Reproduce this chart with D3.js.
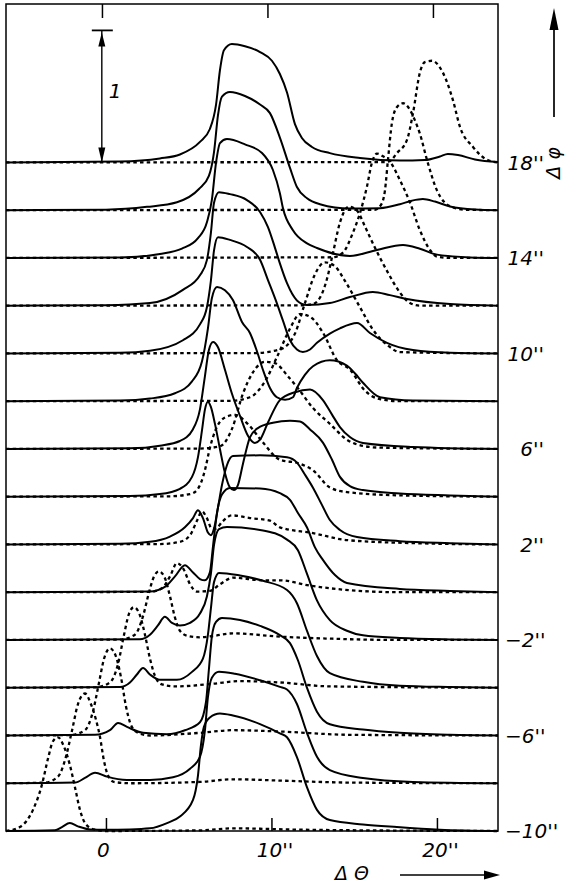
<!DOCTYPE html>
<html>
<head>
<meta charset="utf-8">
<script src="https://cdn.jsdelivr.net/npm/d3@7"></script>
<style>
  body { margin: 0; background: #fff; }
  text { font-family: "DejaVu Sans", "Liberation Sans", sans-serif; font-style: italic; fill: #000; }
</style>
</head>
<body>
<script>
// curve offsets (Δφ in arcsec), bottom to top
const phiValues = [-10, -8, -6, -4, -2, 0, 2, 4, 6, 8, 10, 12, 14, 16, 18];
const phiLabels = [-10, -6, -2, 2, 6, 10, 14, 18];
const thetaTicks = [0, 10, 20];

// solid curves: [ΔΘ (arcsec), intensity]
const solidM10 = [[-6.04,0],[-3.08,0.005],[-2.66,0.03],[-2.18,0.06],[-1.69,0.035],[-0.97,0.012],[0,0.01],[1.45,0.012],[2.66,0.02],[3.69,0.06],[4.47,0.11],[5.26,0.235],[5.56,0.42],[5.74,0.65],[5.92,0.79],[6.28,0.86],[6.89,0.89],[7.67,0.875],[9.31,0.81],[10.51,0.74],[10.94,0.71],[11.54,0.56],[12.15,0.33],[12.75,0.16],[13.53,0.083],[15.53,0.05],[17.58,0.03],[20.18,0.01],[23.69,0]];
const solidM8 = [[-6.04,0],[-1.87,0.005],[-1.27,0.04],[-0.66,0.08],[0.06,0.05],[1.27,0.025],[2.66,0.025],[4.05,0.045],[5.08,0.11],[5.68,0.2],[5.98,0.4],[6.16,0.65],[6.40,0.8],[6.83,0.845],[7.79,0.83],[9.31,0.78],[10.51,0.73],[10.94,0.71],[11.54,0.6],[12.15,0.38],[12.75,0.2],[13.53,0.1],[15.53,0.04],[18.55,0.01],[23.69,0]];
const solidM6 = [[-6.04,0],[-0.66,0.005],[0.24,0.04],[0.73,0.095],[1.27,0.065],[2.24,0.02],[3.69,0.01],[4.77,0.04],[5.68,0.1],[6.04,0.25],[6.22,0.5],[6.40,0.75],[6.65,0.86],[7.01,0.89],[8.10,0.875],[9.31,0.83],[10.51,0.76],[11.12,0.7],[11.60,0.57],[12.15,0.36],[12.75,0.18],[13.53,0.085],[15.53,0.045],[17.76,0.02],[20.79,0.005],[23.69,0]];
const solidM4 = [[-6.04,0],[0.85,0.005],[1.45,0.04],[1.87,0.1],[2.24,0.15],[2.66,0.1],[3.26,0.06],[4.29,0.06],[5.20,0.12],[5.86,0.22],[6.16,0.4],[6.34,0.6],[6.53,0.8],[6.83,0.87],[8.10,0.85],[9.49,0.81],[10.94,0.74],[11.54,0.64],[12.15,0.43],[12.75,0.24],[13.53,0.11],[15.53,0.045],[17.76,0.015],[20.79,0.005],[23.69,0]];
const solidM2 = [[-6.04,0],[2.05,0.005],[2.66,0.04],[3.14,0.11],[3.56,0.175],[3.99,0.13],[4.47,0.11],[5.08,0.13],[5.68,0.2],[6.10,0.33],[6.34,0.5],[6.53,0.72],[6.83,0.84],[7.31,0.856],[9.49,0.83],[10.94,0.76],[11.60,0.68],[12.15,0.5],[12.75,0.3],[13.53,0.15],[14.56,0.07],[15.53,0.035],[17.76,0.015],[20.79,0.004],[23.69,0]];
const solid0 = [[-6.04,0],[2.66,0.005],[3.56,0.04],[4.17,0.12],[4.77,0.205],[5.26,0.15],[5.68,0.1],[5.98,0.09],[6.28,0.15],[6.47,0.35],[6.71,0.6],[7.01,0.74],[7.49,0.79],[9.31,0.785],[10.51,0.75],[11.12,0.7],[11.60,0.6],[12.15,0.49],[12.63,0.34],[13.11,0.245],[13.84,0.13],[14.56,0.07],[17.76,0.025],[20.79,0.01],[23.69,0]];
const solid2 = [[-6.04,0],[0.85,0.005],[2.66,0.02],[3.87,0.06],[4.77,0.13],[5.26,0.2],[5.56,0.26],[5.86,0.2],[6.16,0.09],[6.34,0.07],[6.53,0.12],[6.77,0.28],[7.01,0.45],[7.31,0.6],[7.67,0.67],[9.31,0.675],[10.94,0.66],[11.54,0.62],[12.02,0.53],[12.51,0.43],[13.05,0.3],[13.53,0.185],[14.14,0.11],[15.17,0.056],[17.76,0.025],[20.79,0.01],[23.69,0]];
const solid4 = [[-6.04,0],[1.45,0.005],[3.26,0.02],[4.47,0.06],[5.20,0.15],[5.56,0.3],[5.80,0.5],[5.98,0.66],[6.16,0.72],[6.34,0.68],[6.59,0.55],[6.89,0.36],[7.19,0.18],[7.49,0.07],[7.73,0.05],[7.98,0.09],[8.28,0.25],[8.70,0.45],[9.18,0.52],[10.09,0.56],[11.12,0.575],[11.72,0.57],[12.33,0.51],[13.11,0.41],[13.66,0.28],[14.14,0.15],[14.74,0.08],[15.53,0.05],[17.76,0.025],[20.79,0.01],[23.69,0]];
const solid6 = [[-6.04,0],[1.45,0.005],[3.26,0.025],[4.47,0.06],[5.26,0.15],[5.68,0.3],[5.98,0.55],[6.22,0.75],[6.47,0.81],[6.77,0.77],[7.19,0.6],[7.61,0.42],[8.10,0.25],[8.58,0.1],[9.00,0.045],[9.31,0.07],[9.79,0.2],[10.51,0.37],[11.42,0.43],[12.33,0.45],[13.11,0.37],[13.66,0.26],[14.14,0.166],[14.74,0.09],[15.53,0.045],[18.55,0.015],[23.69,0]];
const solid8 = [[-6.04,0],[0.85,0.005],[2.66,0.02],[4.17,0.06],[5.20,0.15],[5.80,0.3],[6.16,0.55],[6.40,0.78],[6.71,0.865],[7.19,0.84],[7.67,0.767],[8.22,0.6],[8.70,0.517],[9.12,0.38],[9.49,0.236],[9.91,0.1],[10.33,0.03],[10.82,0.01],[11.30,0.03],[11.54,0.1],[12.02,0.2],[12.51,0.265],[13.53,0.31],[14.56,0.27],[15.05,0.21],[15.53,0.14],[16.56,0.03],[18.55,0.005],[23.69,0]];
const solid10 = [[-6.04,0],[0.85,0.005],[2.66,0.02],[4.65,0.1],[5.68,0.22],[6.10,0.35],[6.34,0.55],[6.53,0.78],[6.77,0.88],[7.49,0.86],[8.52,0.806],[9.31,0.71],[9.79,0.556],[10.27,0.4],[10.69,0.25],[11.12,0.1],[11.54,0.03],[11.90,0.01],[12.33,0.03],[12.75,0.08],[13.53,0.15],[14.14,0.19],[15.17,0.23],[15.95,0.155],[16.98,0.08],[18.55,0.026],[20.79,0.005],[23.69,0]];
const solid12 = [[-6.04,0],[0,0.004],[2.66,0.02],[4.65,0.12],[5.68,0.23],[6.10,0.345],[6.34,0.55],[6.53,0.78],[6.83,0.86],[7.49,0.845],[8.52,0.8],[9.31,0.71],[9.79,0.595],[10.21,0.44],[10.51,0.32],[10.94,0.17],[11.54,0.04],[12.15,0.005],[13.53,0.02],[14.74,0.065],[16.13,0.104],[17.16,0.08],[18.19,0.05],[20.79,0.012],[23.69,0]];
const solid14 = [[-6.04,0],[0.85,0.004],[3.26,0.03],[4.59,0.07],[5.56,0.15],[6.10,0.27],[6.40,0.44],[6.65,0.72],[6.89,0.87],[7.31,0.9],[8.40,0.86],[9.43,0.795],[10.09,0.666],[10.51,0.49],[10.69,0.38],[11.30,0.21],[12.15,0.11],[12.75,0.075],[14.74,0.015],[16.37,0.06],[17.95,0.098],[18.97,0.07],[20.00,0.025],[22.00,0.004],[23.69,0]];
const solid16 = [[-6.04,0],[0,0.004],[2.48,0.025],[4.29,0.06],[5.62,0.16],[6.22,0.26],[6.53,0.44],[6.77,0.72],[7.01,0.86],[7.49,0.895],[8.40,0.865],[9.31,0.8],[9.91,0.735],[10.51,0.55],[11.12,0.32],[11.54,0.175],[12.15,0.09],[12.93,0.045],[14.74,0.012],[16.56,0.015],[17.76,0.045],[18.49,0.072],[19.15,0.084],[19.88,0.065],[20.79,0.028],[22.30,0.005],[23.69,0]];
const solid18 = [[-6.04,0],[0.85,0.007],[3.26,0.03],[4.47,0.06],[5.68,0.155],[6.28,0.253],[6.65,0.435],[6.89,0.7],[7.13,0.85],[7.61,0.897],[8.40,0.88],[9.31,0.836],[10.03,0.77],[10.51,0.67],[10.94,0.53],[11.42,0.29],[11.84,0.185],[12.45,0.117],[13.53,0.07],[15.35,0.033],[17.76,0.014],[19.27,0.018],[20.18,0.045],[20.66,0.064],[21.27,0.056],[22.30,0.022],[23.69,0.003]];

// dotted curves: [ΔΘ (arcsec), intensity]
const dottedM10 = [[-6.04,0],[-5.20,0.03],[-4.41,0.16],[-3.87,0.35],[-3.50,0.55],[-3.20,0.68],[-2.90,0.71],[-2.54,0.64],[-2.18,0.5],[-1.87,0.33],[-1.57,0.16],[-1.21,0.05],[-0.66,0.01],[0,0],[5.68,0.005],[7.67,0.02],[11.72,0.01],[23.69,0]];
const dottedM8 = [[-6.04,0],[-3.69,0.005],[-2.90,0.05],[-2.42,0.2],[-2.05,0.4],[-1.69,0.6],[-1.27,0.68],[-0.91,0.6],[-0.60,0.48],[-0.36,0.35],[-0.12,0.17],[0.12,0.06],[0.48,0.01],[1.45,0],[5.68,0.01],[7.67,0.03],[10.51,0.02],[14.74,0.005],[23.69,0]];
const dottedM6 = [[-6.04,0],[-2.18,0.003],[-1.27,0.04],[-0.79,0.18],[-0.42,0.4],[-0.12,0.58],[0.24,0.66],[0.60,0.6],[0.91,0.44],[1.21,0.22],[1.51,0.08],[1.93,0.02],[2.66,0],[5.68,0.02],[7.67,0.04],[10.51,0.03],[14.74,0.005],[23.69,0]];
const dottedM4 = [[-6.04,0],[-0.66,0.003],[0.24,0.04],[0.73,0.18],[1.09,0.4],[1.39,0.56],[1.69,0.61],[2.05,0.55],[2.36,0.4],[2.66,0.22],[2.96,0.09],[3.38,0.025],[4.17,0.01],[6.47,0.03],[8.10,0.05],[10.51,0.04],[13.53,0.01],[23.69,0]];
const dottedM2 = [[-6.04,0],[0.85,0.003],[1.75,0.04],[2.24,0.18],[2.60,0.36],[2.90,0.48],[3.20,0.52],[3.56,0.47],[3.87,0.33],[4.17,0.17],[4.47,0.07],[4.95,0.03],[5.68,0.02],[6.47,0.03],[7.67,0.05],[10.51,0.025],[13.53,0.01],[17.76,0],[23.69,0]];
const dotted0 = [[-6.04,0],[2.66,0.003],[3.38,0.03],[3.87,0.12],[4.29,0.22],[4.71,0.17],[5.08,0.06],[5.50,0.005],[6.28,0.01],[6.89,0.06],[7.67,0.11],[9.49,0.09],[10.51,0.09],[12.33,0.05],[14.74,0.015],[17.76,0],[23.69,0]];
const dotted2 = [[-6.04,0],[3.26,0.003],[4.47,0.02],[5.08,0.07],[5.50,0.18],[5.80,0.25],[6.10,0.2],[6.40,0.12],[6.65,0.12],[7.01,0.17],[7.61,0.22],[8.70,0.2],[9.91,0.18],[10.51,0.13],[12.51,0.086],[14.56,0.033],[18.55,0.01],[23.69,0]];
const dotted4 = [[-6.04,0],[3.87,0.003],[5.08,0.02],[5.50,0.05],[5.98,0.2],[6.28,0.37],[6.71,0.53],[7.19,0.6],[7.79,0.62],[8.58,0.55],[9.43,0.42],[10.51,0.28],[11.72,0.25],[12.51,0.2],[13.53,0.07],[14.56,0.035],[17.76,0.01],[23.69,0]];
const dotted6 = [[-6.04,0],[5.68,0.003],[6.89,0.02],[7.61,0.15],[8.28,0.42],[8.88,0.58],[9.61,0.66],[10.21,0.65],[11.00,0.55],[11.54,0.47],[12.51,0.31],[13.53,0.19],[14.56,0.07],[15.65,0.02],[16.56,0.01],[23.69,0]];
const dotted8 = [[-6.04,0],[7.49,0.003],[8.70,0.03],[9.61,0.15],[10.39,0.35],[11.12,0.55],[11.72,0.66],[12.33,0.64],[13.11,0.52],[13.96,0.31],[14.74,0.24],[15.65,0.08],[16.56,0.015],[17.76,0],[23.69,0]];
const dotted10 = [[-6.04,0],[9.00,0.003],[10.51,0.03],[11.42,0.15],[12.02,0.38],[12.63,0.6],[13.23,0.69],[13.84,0.66],[14.44,0.55],[15.35,0.35],[16.13,0.18],[17.04,0.06],[17.76,0.01],[23.69,0]];
const dotted12 = [[-6.04,0],[11.72,0.003],[12.45,0.01],[12.93,0.06],[13.35,0.2],[13.72,0.4],[14.14,0.63],[14.68,0.75],[15.17,0.72],[15.65,0.6],[16.25,0.44],[17.04,0.25],[17.76,0.1],[18.37,0.02],[18.97,0],[23.69,0]];
const dotted14 = [[-6.04,0],[13.72,0.005],[14.32,0.04],[14.92,0.19],[15.35,0.34],[15.77,0.54],[16.07,0.72],[16.37,0.79],[16.74,0.77],[17.16,0.73],[17.76,0.59],[18.37,0.42],[18.97,0.21],[19.58,0.06],[20.00,0.01],[20.79,0],[23.69,0]];
const dotted16 = [[-6.04,0],[16.25,0.003],[16.62,0.04],[16.86,0.15],[17.04,0.38],[17.28,0.66],[17.58,0.78],[17.95,0.81],[18.37,0.76],[18.67,0.68],[18.97,0.58],[19.40,0.38],[20.00,0.15],[20.79,0.03],[21.69,0.003],[23.69,0]];
const dotted18 = [[-6.04,0],[16.86,0.003],[17.16,0.01],[17.58,0.07],[18.19,0.17],[18.55,0.37],[18.97,0.68],[19.27,0.76],[19.70,0.77],[20.36,0.68],[20.97,0.47],[21.39,0.27],[22.18,0.117],[23.02,0.02],[23.69,0]];

const solidCurves = [solidM10, solidM8, solidM6, solidM4, solidM2, solid0, solid2, solid4, solid6, solid8, solid10, solid12, solid14, solid16, solid18];
const dottedCurves = [dottedM10, dottedM8, dottedM6, dottedM4, dottedM2, dotted0, dotted2, dotted4, dotted6, dotted8, dotted10, dotted12, dotted14, dotted16, dotted18];

const width = 568, height = 886;
const plot = {left: 6, right: 498, top: 4, bottom: 831};

const svg = d3.select("body").append("svg")
  .attr("width", width)
  .attr("height", height);

const x = d3.scaleLinear().domain([-6.04, 23.69]).range([plot.left, plot.right]);
const yPhi = d3.scaleLinear().domain([-10, 18]).range([plot.bottom, 162.4]);
// height of one intensity unit (the "1" bar)
const yAmp = d3.scaleLinear().domain([0, 1]).range([0, 132]);

// frame
svg.append("rect")
  .attr("x", plot.left).attr("y", plot.top)
  .attr("width", plot.right - plot.left).attr("height", plot.bottom - plot.top)
  .attr("fill", "none").attr("stroke", "#000").attr("stroke-width", 1.5);

// bottom axis, ticks pointing inward
const xAxis = d3.axisBottom(x)
  .tickValues(thetaTicks)
  .tickSize(-13)
  .tickPadding(12)
  .tickFormat(d => d === 0 ? "0" : d + "''");
const gx = svg.append("g")
  .attr("transform", "translate(0," + plot.bottom + ")")
  .call(xAxis);
gx.select(".domain").remove();
gx.selectAll("line").attr("stroke", "#000").attr("stroke-width", 1.5);
gx.selectAll("text")
  .attr("font-family", null)
  .attr("font-size", null)
  .attr("dx", d => d === 0 ? -3 : 3)
  .style("font-size", "20px");

// top axis (no labels)
const gxTop = svg.append("g")
  .attr("transform", "translate(-4," + plot.top + ")")
  .call(d3.axisTop(x).tickValues(thetaTicks).tickSize(-14).tickFormat(""));
gxTop.select(".domain").remove();
gxTop.selectAll("line").attr("stroke", "#000").attr("stroke-width", 1.5);

// curves
const curveLine = phi => d3.line()
  .x(d => x(d[0]))
  .y(d => yPhi(phi) - yAmp(d[1]))
  .curve(d3.curveMonotoneX);

svg.append("g").selectAll("path")
  .data(phiValues)
  .enter().append("path")
    .attr("d", (phi, i) => curveLine(phi)(dottedCurves[i]))
    .attr("fill", "none")
    .attr("stroke", "#000")
    .attr("stroke-width", 2.3)
    .attr("stroke-dasharray", "3.5,3.2");

svg.append("g").selectAll("path")
  .data(phiValues)
  .enter().append("path")
    .attr("d", (phi, i) => curveLine(phi)(solidCurves[i]))
    .attr("fill", "none")
    .attr("stroke", "#000")
    .attr("stroke-width", 2);

// Δφ labels on the right
svg.append("g").selectAll("text")
  .data(phiLabels)
  .enter().append("text")
    .attr("x", d => d < 0 ? 505 : 544)
    .attr("y", d => yPhi(d))
    .attr("dy", "0.36em")
    .attr("text-anchor", d => d < 0 ? "start" : "end")
    .style("font-size", "20px")
    .text(d => (d < 0 ? "\u2212" + Math.abs(d) : d) + "''");

// scale bar for one intensity unit
const barX = x(-0.25);
const barBase = yPhi(18), barTop = yPhi(18) - yAmp(1);
svg.append("line")
  .attr("x1", barX - 10).attr("x2", barX + 11)
  .attr("y1", barTop).attr("y2", barTop)
  .attr("stroke", "#000").attr("stroke-width", 1.8);
svg.append("line")
  .attr("x1", barX).attr("x2", barX)
  .attr("y1", barTop).attr("y2", barBase)
  .attr("stroke", "#000").attr("stroke-width", 1.4);
svg.append("path")
  .attr("d", `M${barX},${barTop + 2}L${barX - 3.5},${barTop + 16}L${barX + 3.5},${barTop + 16}Z`)
  .attr("fill", "#000");
svg.append("path")
  .attr("d", `M${barX},${barBase}L${barX - 3.5},${barBase - 15}L${barX + 3.5},${barBase - 15}Z`)
  .attr("fill", "#000");
svg.append("text")
  .attr("x", barX + 7).attr("y", 98)
  .style("font-size", "20px")
  .text("1");

// ΔΘ axis title with arrow
svg.append("text")
  .attr("x", 335).attr("y", 880)
  .style("font-size", "19px")
  .text("\u0394 \u0398");
svg.append("line")
  .attr("x1", 400).attr("x2", 488).attr("y1", 875).attr("y2", 875)
  .attr("stroke", "#000").attr("stroke-width", 1.7);
svg.append("path")
  .attr("d", "M500,875L484,870.5L484,879.5Z")
  .attr("fill", "#000");

// Δφ axis title with arrow
svg.append("text")
  .attr("transform", "translate(560,163) rotate(-90)")
  .attr("text-anchor", "middle")
  .style("font-size", "19px")
  .text("\u0394 \u03c6");
svg.append("line")
  .attr("x1", 554).attr("x2", 554).attr("y1", 117).attr("y2", 26)
  .attr("stroke", "#000").attr("stroke-width", 1.7);
svg.append("path")
  .attr("d", "M554,8L549.5,30L558.5,30Z")
  .attr("fill", "#000");
</script>
</body>
</html>
